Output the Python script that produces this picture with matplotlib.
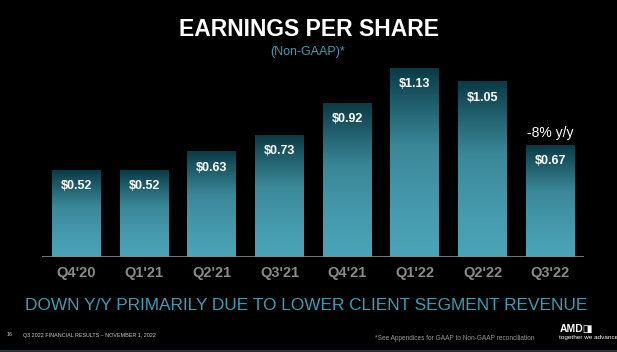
import numpy as np
import matplotlib.pyplot as plt
from matplotlib.colors import LinearSegmentedColormap

quarters = ["Q4'20", "Q1'21", "Q2'21", "Q3'21", "Q4'21", "Q1'22", "Q2'22", "Q3'22"]
eps = [0.52, 0.52, 0.63, 0.73, 0.92, 1.13, 1.05, 0.67]
eps_labels = ["$0.52", "$0.52", "$0.63", "$0.73", "$0.92", "$1.13", "$1.05", "$0.67"]
yoy_note = "-8% y/y"

W, H = 617, 352
plt.rcParams["font.family"] = ["Liberation Sans", "DejaVu Sans"]

fig = plt.figure(figsize=(W / 100, H / 100), dpi=100, facecolor="black")

# axes placed in pixel terms: baseline at y=256.7, x from 42 to 584
ax_left, ax_right = 42, 584
ax_bottom, ax_top = 256.7, 60
ax = fig.add_axes([ax_left / W, (H - ax_bottom) / H,
                   (ax_right - ax_left) / W, (ax_bottom - ax_top) / H])
ax.set_facecolor("black")
ax.set_xlim(-0.51, 7.5)
ax.set_ylim(0, (ax_bottom - ax_top) / 166.7)

cmap = LinearSegmentedColormap.from_list("bar", ["#4ba3b7", "#3a8797", "#0a3a45"])
grad = np.linspace(0, 1, 256).reshape(-1, 1) ** 1.3
width = 0.72
x = np.arange(len(quarters))
for xi, v, lab in zip(x, eps, eps_labels):
    ax.imshow(grad, cmap=cmap, origin="lower", aspect="auto",
              extent=(xi - width / 2, xi + width / 2, 0, v), zorder=2)
    ax.annotate(lab, (xi, v), xytext=(0, -11.5), textcoords="offset points",
                ha="center", va="center", color="white", fontsize=9,
                fontweight="bold", zorder=3)
ax.annotate(yoy_note, (x[-1], eps[-1]), xytext=(0, 8.5), textcoords="offset points",
            ha="center", va="center", color="white", fontsize=10)

ax.axhline(0, color="#8c8c8c", lw=1.2, zorder=4)
ax.set_xticks(x)
ax.set_xticklabels(quarters, color="#8a8a8a", fontsize=10.5, fontweight="bold")
ax.tick_params(axis="x", length=0, pad=7)
ax.set_yticks([])
for s in ax.spines.values():
    s.set_visible(False)
ax.set_xlim(-0.51, 7.5)


def fy(py):
    return 1 - py / H


fig.text(309 / W, fy(30), "EARNINGS PER SHARE", ha="center", va="center",
         color="white", fontsize=16.5, fontweight="bold")
fig.text(308 / W, fy(52.5), "(Non-GAAP)*", ha="center", va="center",
         color="#3d9db3", fontsize=9)
fig.text(306.5 / W, fy(305), "DOWN Y/Y PRIMARILY DUE TO LOWER CLIENT SEGMENT REVENUE",
         ha="center", va="center", color="#3d9db3", fontsize=12.4)
fig.text(7 / W, fy(335), "16", ha="left", va="center", color="#cccccc", fontsize=3.9)
fig.text(23 / W, fy(335), "Q3 2022 FINANCIAL RESULTS \u2013 NOVEMBER 1, 2022",
         ha="left", va="center", color="#cccccc", fontsize=3.9)
fig.text(375 / W, fy(338), "*See Appendices for GAAP to Non-GAAP reconciliation",
         ha="left", va="center", color="#9a9a9a", fontsize=4.7)
fig.text(560 / W, fy(329), "AMD\u25e8", ha="left", va="center", color="white",
         fontsize=7.5, fontweight="bold", family=["Liberation Sans", "DejaVu Sans"])
fig.text(559 / W, fy(338), "together we advance", ha="left", va="center",
         color="white", fontsize=4.6)

# thin grey strip at the bottom edge
fig.patches.append(plt.Rectangle((0, 0), 1, 2.5 / H, transform=fig.transFigure,
                                 color="#2b3034", zorder=0))

fig.savefig("out.png", dpi=100, facecolor="black")
